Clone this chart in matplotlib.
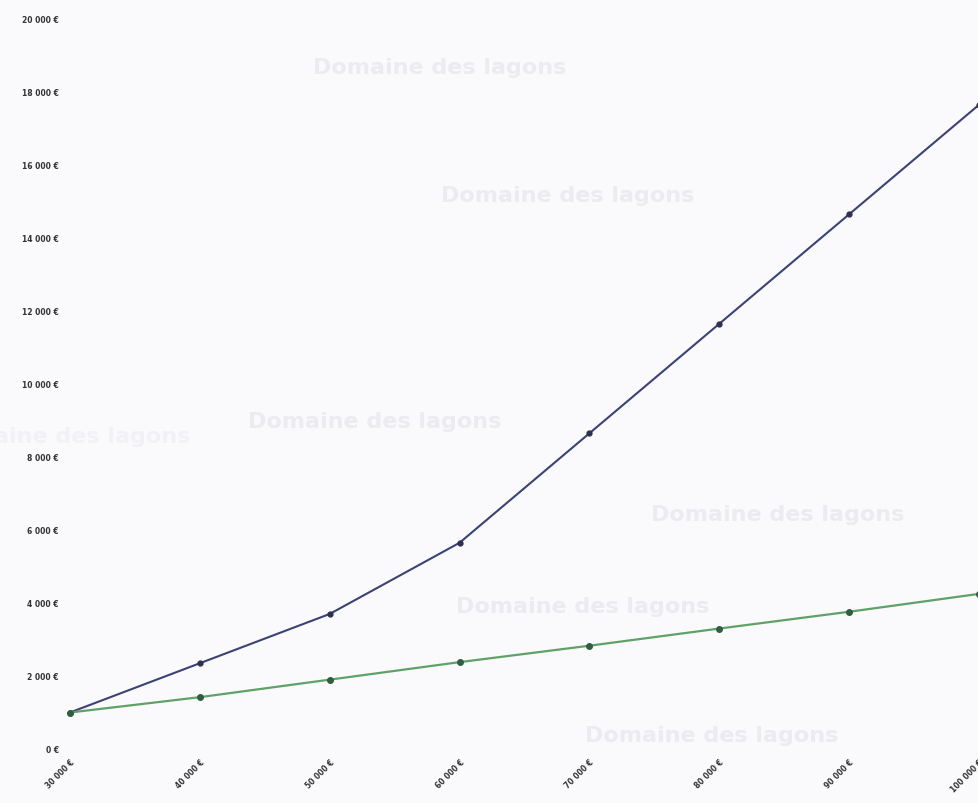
import matplotlib
matplotlib.use("Agg")
import matplotlib.pyplot as plt
from matplotlib.ticker import FuncFormatter

x_labels = ["30 000 €", "40 000 €", "50 000 €", "60 000 €", "70 000 €", "80 000 €", "90 000 €", "100 000 €"]
serie_haute = [1000, 2350, 3700, 5650, 8650, 11650, 14650, 17650]
serie_basse = [1000, 1420, 1900, 2380, 2830, 3300, 3760, 4250]
y_ticks = [0, 2000, 4000, 6000, 8000, 10000, 12000, 14000, 16000, 18000, 20000]
watermark = "Domaine des lagons"
wm_pos = [(440, 68), (568, 196), (375, 422), (778, 515), (583, 607), (712, 736)]

W, H = 979, 804
fig = plt.figure(figsize=(W / 100, H / 100), dpi=100)
bg = "#fafafc"
fig.patch.set_facecolor(bg)
ax = fig.add_axes([70 / W, 1 - 750 / H, 1 - 70 / W, (750 - 20) / H])
ax.set_facecolor(bg)

for (px, py) in wm_pos:
    fig.text(px / W, 1 - py / H, watermark, ha="center", va="center",
             fontsize=16, color="#ebebf0", fontweight="bold",
             family="DejaVu Sans", zorder=0)
fig.text(190 / W, 1 - 437 / H, watermark, ha="right", va="center",
         fontsize=16, color="#f2f2f6", fontweight="bold",
         family="DejaVu Sans", zorder=0)

xs = list(range(len(x_labels)))
ax.plot(xs, serie_haute, color="#3c4272", lw=1.5, marker="o", ms=3.5,
        mfc="#2e3050", mec="#2e3050", clip_on=False, zorder=3)
ax.plot(xs, serie_basse, color="#5fa268", lw=1.6, marker="o", ms=4,
        mfc="#2f5e40", mec="#2f5e40", clip_on=False, zorder=4)

ax.set_xlim(0, len(x_labels) - 1)
ax.set_ylim(0, 20000)
ax.set_yticks(y_ticks)
ax.yaxis.set_major_formatter(FuncFormatter(lambda v, p: f"{int(v):,}".replace(",", " ") + " €"))
ax.set_xticks(xs)
ax.set_xticklabels(x_labels, rotation=45, ha="right", rotation_mode="anchor")
ax.tick_params(axis="both", length=0, labelsize=5.5, colors="#333333")
for lab in ax.get_xticklabels() + ax.get_yticklabels():
    lab.set_fontweight("bold")
ax.tick_params(axis="y", pad=8)
ax.tick_params(axis="x", pad=6)
for s in ax.spines.values():
    s.set_visible(False)

fig.savefig("out.png", dpi=100, facecolor=bg)
